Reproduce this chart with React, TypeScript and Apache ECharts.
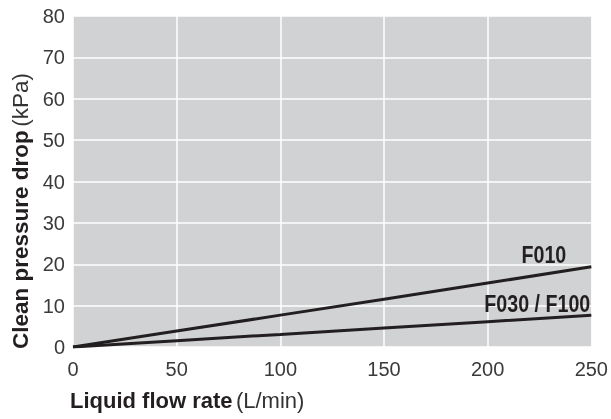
import React, { useEffect, useRef } from "react";
import * as echarts from "echarts";

const flowRates = [0, 50, 100, 150, 200, 250];
const f010Values = [0, 3.85, 7.7, 11.55, 15.45, 19.4];
const f030Values = [0, 1.52, 3.05, 4.6, 6.12, 7.65];
const seriesNames = ["F010", "F030 / F100"];
const xTitleBold = "Liquid flow rate";
const xTitleUnit = "(L/min)";
const yTitleBold = "Clean pressure drop";
const yTitleUnit = "(kPa)";

const INK = "#231f20";
const FONT = "'Liberation Sans', Arial, Helvetica, sans-serif";

export default function App() {
  const ref = useRef<HTMLDivElement>(null);
  useEffect(() => {
    if (!ref.current) return;
    const chart = echarts.init(ref.current, null, { renderer: "svg" });
    const mkRich = (size: number) => ({
      b: { fontFamily: FONT, fontWeight: "bold", fontSize: size, fill: INK, color: INK },
      n: { fontFamily: FONT, fontWeight: "normal", fontSize: size, fill: "#333", color: "#333" },
    });
    const seriesData = [f010Values, f030Values];
    chart.setOption({
      animation: false,
      grid: {
        left: 73,
        right: 19,
        top: 16,
        bottom: 72,
        show: true,
        backgroundColor: "#d1d2d4",
        borderWidth: 0,
      },
      xAxis: {
        type: "value",
        min: 0,
        max: 250,
        interval: 50,
        axisLine: { show: false },
        axisTick: { show: false },
        splitLine: { show: true, lineStyle: { color: "#ffffff", width: 1.5 } },
        axisLabel: { color: "#3a3a3a", fontSize: 20, fontFamily: FONT, margin: 12 },
      },
      yAxis: {
        type: "value",
        min: 0,
        max: 80,
        interval: 10,
        axisLine: { show: false },
        axisTick: { show: false },
        splitLine: { show: true, lineStyle: { color: "#ffffff", width: 1.5 } },
        axisLabel: { color: "#3a3a3a", fontSize: 20, fontFamily: FONT, margin: 8 },
      },
      series: seriesData.map((vals, si) => ({
        name: seriesNames[si],
        type: "line",
        showSymbol: false,
        symbol: "none",
        lineStyle: { color: INK, width: 3 },
        itemStyle: { color: INK },
        data: flowRates.map((x, i) => [x, vals[i]]),
        z: 3,
      })),
      graphic: [
        {
          type: "text",
          left: 70,
          top: 389,
          style: { text: `{b|${xTitleBold}} {n|${xTitleUnit}}`, rich: mkRich(22) },
        },
        {
          type: "text",
          x: 20,
          y: 211,
          rotation: Math.PI / 2,
          style: {
            text: `{b|${yTitleBold}} {n|${yTitleUnit}}`,
            rich: mkRich(22.5),
            align: "center",
            verticalAlign: "middle",
          },
        },
      ],
    });

    // series end labels, positioned through the chart's own scales
    const labelOffsets = [
      [-25, -12],
      [-1, -12],
    ];
    const last = flowRates.length - 1;
    const endLabels = seriesData.map((vals, si) => {
      const [px, py] = chart.convertToPixel({ gridIndex: 0 }, [flowRates[last], vals[last]]) as number[];
      return {
        type: "text",
        id: "end" + si,
        x: px + labelOffsets[si][0],
        y: py + labelOffsets[si][1],
        scaleX: 0.82,
        z: 10,
        style: {
          text: seriesNames[si],
          fontFamily: FONT,
          fontWeight: "bold",
          fontSize: 24,
          fill: INK,
          align: "right",
          verticalAlign: "middle",
        },
      };
    });
    chart.setOption({ graphic: endLabels });
    return () => chart.dispose();
  }, []);
  return (
    <div ref={ref} style={{ position: "fixed", left: 0, top: 0, width: 611, height: 419 }} />
  );
}
